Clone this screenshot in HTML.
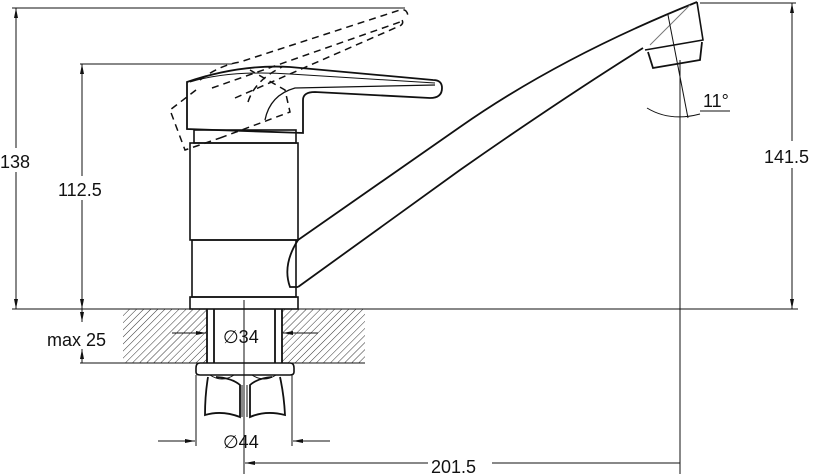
<!DOCTYPE html>
<html><head><meta charset="utf-8"><style>
html,body{margin:0;padding:0;background:#fff;}
svg{display:block;}
text{font-family:"Liberation Sans",sans-serif;fill:#111;}
</style></head><body>
<svg width="818" height="474" viewBox="0 0 818 474" xmlns="http://www.w3.org/2000/svg">
<defs>
<pattern id="h" width="5" height="5" patternUnits="userSpaceOnUse" patternTransform="rotate(45)">
<line x1="0" y1="0" x2="0" y2="5" stroke="#333" stroke-width="1"/>
</pattern>
<marker id="a" markerWidth="10" markerHeight="6" refX="10" refY="3" orient="auto" markerUnits="userSpaceOnUse">
<path d="M0,1 L10,3 L0,5 z" fill="#111"/>
</marker>
</defs>
<g fill="none" stroke="#111" stroke-width="1">
<rect x="123" y="309" width="84" height="54" fill="url(#h)" stroke="none"/>
<rect x="282" y="309" width="83" height="54" fill="url(#h)" stroke="none"/>
<line x1="12" y1="309" x2="798" y2="309"/>
<line x1="80" y1="363" x2="207" y2="363"/>
<line x1="282" y1="363" x2="365" y2="363"/>
<path d="M207 309 V363 M214 309 V363 M275 309 V363 M282 309 V363" stroke-width="1.8"/>
<line x1="244" y1="300" x2="244" y2="474"/>
<line x1="680" y1="60" x2="680" y2="474"/>
<path d="M200 363 H290 Q294 363 294 368 V372 Q294 375 290 375 H200 Q196 375 196 372 V368 Q196 363 200 363Z" stroke-width="1.6"/>
<path d="M210 375 Q222 383 234 375 M252 375 Q264 383 276 375" />
<path d="M208 377 Q205 395 205 415 Q222 410 240 417 L240 385 Q232 378 216 377 M280 377 Q284 395 285 415 Q266 410 250 417 L250 385 Q258 378 272 377" stroke-width="1.8"/>
<path d="M242 385 V417 M247 385 V417"/>
<rect x="190" y="297" width="108" height="12" stroke-width="1.6"/>
<rect x="192" y="240" width="104" height="57" stroke-width="1.6"/>
<rect x="190" y="143" width="108" height="97" stroke-width="1.6"/>
<rect x="194" y="130" width="102" height="13" stroke-width="1.6"/>
<path d="M187 82 V129 L303 133 V100 Q303 92 315 92 L430 98 Q442 98 442 88 Q442 80 433 80 L290 67 Q240 64 187 82Z" stroke-width="1.8"/>
<path d="M265 120 Q270 95 295 88 L435 85" stroke-width="1.3"/>
<path d="M190 82 Q230 70 290 74 L435 83" stroke-width="1"/>
<g stroke-dasharray="7,5" stroke-width="1.5">
<path d="M200 80 Q220 65 240 62 L400 10 Q408 8 408 18"/>
<path d="M212 88 L400 22"/>
<path d="M235 98 L395 28 Q405 25 402 20"/>
<path d="M196 90 L170 110 L185 150 L220 138"/>
<path d="M220 138 L290 112 L285 90 L250 70"/>
<path d="M248 102 Q255 80 282 67"/>
</g>
<path d="M298 240 L460 127 Q560 57 697 2" stroke-width="1.8"/>
<path d="M298 287 L460 170 Q560 100 643 48" stroke-width="1.8"/>
<path d="M298 240 Q282 265 290 287 L298 287" stroke-width="1.8"/>
<path d="M697 2 L703 40 L645 50" stroke-width="1.6"/>
<path d="M648 52 L653 68 L700 60 L702 42" stroke-width="1.8"/>
<path d="M650 45 L690 5" stroke="#777"/>
<line x1="668" y1="15" x2="688" y2="118"/>
<path d="M647 108 Q670 122 700 114" />
<line x1="700" y1="111" x2="730" y2="111"/>
<line x1="12" y1="8" x2="405" y2="8"/>
<line x1="16" y1="148" x2="16" y2="8" marker-end="url(#a)"/>
<line x1="16" y1="172" x2="16" y2="309" marker-end="url(#a)"/>
<line x1="80" y1="64" x2="232" y2="64"/>
<line x1="82" y1="176" x2="82" y2="64" marker-end="url(#a)"/>
<line x1="82" y1="200" x2="82" y2="309" marker-end="url(#a)"/>
<line x1="82" y1="309" x2="82" y2="322" marker-end="url(#a)"/>
<line x1="82" y1="363" x2="82" y2="349" marker-end="url(#a)"/>
<line x1="700" y1="3" x2="796" y2="3"/>
<line x1="792" y1="141" x2="792" y2="3" marker-end="url(#a)"/>
<line x1="792" y1="168" x2="792" y2="309" marker-end="url(#a)"/>
<line x1="172" y1="333" x2="206" y2="333" marker-end="url(#a)"/>
<line x1="318" y1="333" x2="283" y2="333" marker-end="url(#a)"/>
<line x1="196" y1="375" x2="196" y2="446"/>
<line x1="292" y1="375" x2="292" y2="446"/>
<line x1="158" y1="441" x2="195" y2="441" marker-end="url(#a)"/>
<line x1="330" y1="441" x2="293" y2="441" marker-end="url(#a)"/>
<line x1="428" y1="463" x2="245" y2="463" marker-end="url(#a)"/>
<line x1="492" y1="463" x2="680" y2="463"/>
</g>
<g font-size="18">
<text x="0" y="168">138</text>
<text x="58" y="196">112.5</text>
<text x="47" y="346">max 25</text>
<text x="223" y="343">∅34</text>
<text x="223" y="448">∅44</text>
<text x="431" y="473">201.5</text>
<text x="764" y="163">141.5</text>
<text x="703" y="107">11°</text>
</g>
</svg>
</body></html>
